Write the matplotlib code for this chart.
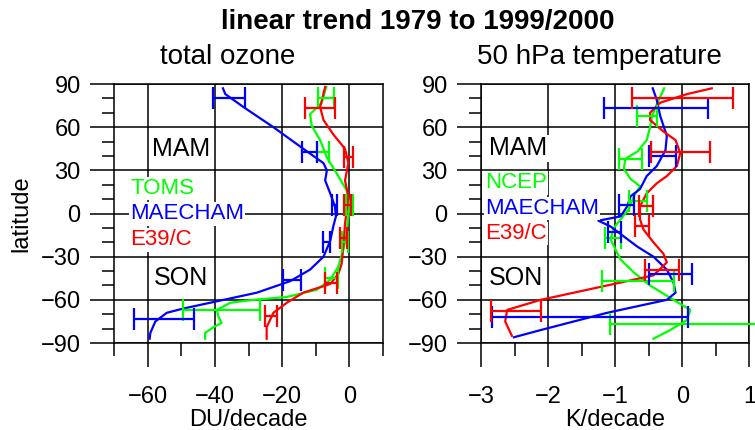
import matplotlib
matplotlib.use("Agg")
import matplotlib.pyplot as plt
import numpy as np

plt.rcParams['font.family'] = ['Liberation Sans', 'DejaVu Sans']

# total ozone trend (DU/decade) vs latitude
toms_lat = [88, 77, 69, 61, 51, 39, 28, 16, 7, -2, -16, -25, -37, -46, -53, -58, -60, -62, -67, -72, -76, -79, -83, -87]
toms_val = [-6.9, -8.2, -11.7, -11.2, -8.7, -6.7, -3.8, -0.8, 0.0, -0.3, -1.0, -1.8, -3.3, -5.7, -9.7, -18.6, -28.5, -35.4, -39.4, -38.9, -38.0, -40.4, -42.9, -42.9]
mae_o3_lat = [87, 83, 74, 60, 45, 35, 30, 23, 14, 5, -2, -9, -19, -30, -39, -47, -55, -60, -66, -69, -75, -83, -87]
mae_o3_val = [-37.6, -36.9, -31.5, -22.6, -13.7, -7.7, -6.7, -7.2, -5.7, -4.3, -4.0, -4.8, -5.7, -7.7, -11.7, -17.6, -27.5, -37.4, -49.3, -54.3, -57.7, -59.2, -59.4]
e39_o3_lat = [88, 74, 65, 55, 45, 35, 23, 12, 2, -7, -23, -35, -42, -49, -55, -62, -69, -79, -87]
e39_o3_val = [-7.2, -8.7, -7.7, -4.8, -1.3, -0.3, -1.3, -0.3, -0.8, -1.3, -1.8, -2.3, -3.3, -5.7, -13.7, -18.6, -22.6, -24.6, -24.6]

# error bars (low / high ends)
toms_eb_lat = [80, 43, 6, -20, -45, -67]
toms_eb_lo = [-9.4, -9.7, -1.0, -2.3, -7.2, -49.5]
toms_eb_hi = [-4.5, -6.2, 1.2, -0.3, -3.3, -26.5]
mae_o3_eb_lat = [80, 43, 6, -20, -46, -73]
mae_o3_eb_lo = [-40.6, -14.2, -5.2, -7.7, -19.8, -64.2]
mae_o3_eb_hi = [-31.0, -9.7, -3.8, -5.9, -14.5, -46.1]
e39_o3_eb_lat = [73, 39, 6, -17, -48, -71]
e39_o3_eb_lo = [-13.2, -1.6, -1.6, -2.8, -7.2, -25.0]
e39_o3_eb_hi = [-4.3, 1.2, 0.4, -0.8, -3.8, -21.6]

# 50 hPa temperature trend (K/decade) vs latitude
ncep_lat = [87, 79, 68, 60, 51, 43, 38, 31, 24, 19, 12, 3, -3, -10, -18, -32, -41, -50, -60, -67, -74, -81, -87]
ncep_val = [-0.27, -0.35, -0.45, -0.48, -0.53, -0.67, -0.85, -0.87, -0.77, -0.63, -0.72, -0.80, -0.90, -1.02, -1.07, -0.92, -0.72, -0.48, -0.13, 0.12, 0.07, -0.18, -0.43]
mae_t_lat = [87, 79, 68, 54, 44, 33, 26, 17, 12, 5, -2, -5, -9, -16, -23, -30, -39, -48, -55, -60, -69, -81, -86]
mae_t_val = [-0.44, -0.38, -0.33, -0.23, -0.25, -0.38, -0.53, -0.63, -0.77, -0.82, -0.92, -1.25, -1.07, -0.87, -0.67, -0.43, -0.23, -0.13, -0.10, -0.23, -1.12, -2.11, -2.51]
e39_t_lat = [87, 83, 77, 70, 65, 57, 51, 42, 33, 26, 21, 14, 5, -4, -11, -20, -28, -34, -43, -50, -60, -67, -75, -85]
e39_t_val = [0.44, 0.07, -0.33, -0.48, -0.48, -0.28, -0.10, -0.03, -0.08, -0.23, -0.38, -0.53, -0.63, -0.63, -0.58, -0.43, -0.28, -0.23, -0.43, -1.12, -2.11, -2.61, -2.64, -2.54]

ncep_eb_lat = [68, 38, 9, -17, -47, -77]
ncep_eb_lo = [-0.67, -0.95, -0.80, -1.15, -1.20, -1.07]
ncep_eb_hi = [-0.38, -0.60, -0.53, -0.92, -0.13, 1.30]
mae_t_eb_lat = [73, 40, 6, -13, -42, -72]
mae_t_eb_lo = [-1.17, -0.50, -0.95, -1.10, -0.50, -2.83]
mae_t_eb_hi = [0.38, -0.09, -0.72, -0.92, 0.14, 0.09]
e39_t_eb_lat = [80, 43, 5, -9, -39, -68]
e39_t_eb_lo = [-0.75, -0.47, -0.64, -0.70, -0.55, -2.85]
e39_t_eb_hi = [0.75, 0.41, -0.44, -0.50, -0.05, -2.10]

green = '#00ff00'
blue = '#0000ff'
red = '#ff0000'

fig = plt.figure(figsize=(7.55, 4.30), dpi=100)
ax1 = fig.add_axes([0.151, 0.2023, 0.3563, 0.6023])
ax2 = fig.add_axes([0.6371, 0.2023, 0.3554, 0.6023])


def errbars(ax, lat, lo, hi, color):
    lo = np.array(lo)
    hi = np.array(hi)
    mid = (lo + hi) / 2
    ax.errorbar(mid, lat, xerr=(hi - lo) / 2, fmt='none', ecolor=color,
                elinewidth=1.6, capsize=8, capthick=1.6, clip_on=False, zorder=3)


def style(ax, xlim, major, minor, xlabel):
    ax.set_xlim(xlim)
    ax.set_ylim(-90, 90)
    ax.set_xticks(major)
    ax.set_xticks(minor, minor=True)
    ax.set_yticks([90, 60, 30, 0, -30, -60, -90])
    ax.set_yticks([v for v in range(-80, 90, 10) if v % 30 != 0], minor=True)
    ax.grid(True, which='major', color='black', linewidth=1.1)
    ax.tick_params(which='major', length=17, width=1.1, direction='out', labelsize=17, pad=7)
    ax.tick_params(which='minor', length=9, width=1.1, direction='out')
    ax.tick_params(axis='x', which='major', pad=14)
    for s in ax.spines.values():
        s.set_linewidth(1.1)
    ax.set_xlabel(xlabel, fontsize=17, labelpad=1)
    ax.set_axisbelow(True)


# left: total ozone
ax1.plot(toms_val, toms_lat, color=green, lw=1.6)
ax1.plot(mae_o3_val, mae_o3_lat, color=blue, lw=1.6)
ax1.plot(e39_o3_val, e39_o3_lat, color=red, lw=1.6)
errbars(ax1, toms_eb_lat, toms_eb_lo, toms_eb_hi, green)
errbars(ax1, mae_o3_eb_lat, mae_o3_eb_lo, mae_o3_eb_hi, blue)
errbars(ax1, e39_o3_eb_lat, e39_o3_eb_lo, e39_o3_eb_hi, red)
style(ax1, (-70, 10), [-60, -40, -20, 0], [-70, -50, -30, -10, 10], 'DU/decade')
ax1.set_ylabel('latitude', fontsize=17, labelpad=6)

box = dict(facecolor='white', edgecolor='none', pad=1)
ax1.text(-58.8, 45, 'MAM', fontsize=18, va='center', bbox=box, zorder=5)
ax1.text(-58.1, -45, 'SON', fontsize=18, va='center', bbox=box, zorder=5)
ax1.text(-65.2, 17.5, 'TOMS', color=green, fontsize=16, va='center', bbox=box, zorder=5)
ax1.text(-65.2, -0.3, 'MAECHAM', color=blue, fontsize=16, va='center', bbox=box, zorder=5)
ax1.text(-65.2, -18.4, 'E39/C', color=red, fontsize=16, va='center', bbox=box, zorder=5)

# right: 50 hPa temperature
ax2.plot(ncep_val, ncep_lat, color=green, lw=1.6)
ax2.plot(mae_t_val, mae_t_lat, color=blue, lw=1.6)
ax2.plot(e39_t_val, e39_t_lat, color=red, lw=1.6)
errbars(ax2, ncep_eb_lat, ncep_eb_lo, ncep_eb_hi, green)
errbars(ax2, mae_t_eb_lat, mae_t_eb_lo, mae_t_eb_hi, blue)
errbars(ax2, e39_t_eb_lat, e39_t_eb_lo, e39_t_eb_hi, red)
style(ax2, (-3, 1), [-3, -2, -1, 0, 1], [-2.5, -1.5, -0.5, 0.5], 'K/decade')

ax2.text(-2.88, 45.3, 'MAM', fontsize=18, va='center', bbox=box, zorder=5)
ax2.text(-2.88, -45, 'SON', fontsize=18, va='center', bbox=box, zorder=5)
ax2.text(-2.94, 21.4, 'NCEP', color=green, fontsize=16, va='center', bbox=box, zorder=5)
ax2.text(-2.94, 3.6, 'MAECHAM', color=blue, fontsize=16, va='center', bbox=box, zorder=5)
ax2.text(-2.94, -13.8, 'E39/C', color=red, fontsize=16, va='center', bbox=box, zorder=5)

fig.text(418 / 755, 1 - 22 / 430, 'linear trend 1979 to 1999/2000', fontsize=20,
         fontweight='bold', ha='center', va='center')
fig.text(228 / 755, 1 - 57 / 430, 'total ozone', fontsize=20, ha='center', va='center')
fig.text(599 / 755, 1 - 57 / 430, '50 hPa temperature', fontsize=20, ha='center', va='center')

fig.savefig('out.png', dpi=100)
